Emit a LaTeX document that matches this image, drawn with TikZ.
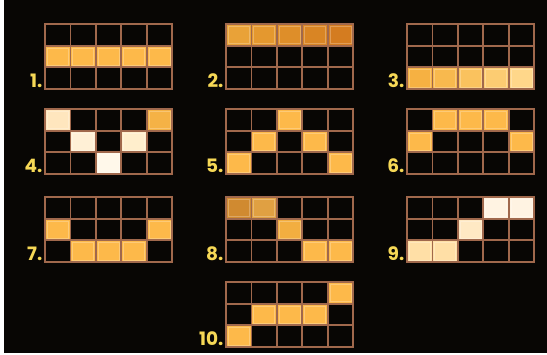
\documentclass[tikz,border=0pt]{standalone}
\usepackage{fontspec}
\setmainfont{Poppins}
\definecolor{bg}{HTML}{080604}
\definecolor{gl}{HTML}{A0684C}
\definecolor{labc}{HTML}{F6D856}
\definecolor{gold}{HTML}{FDB94A}
\definecolor{ga}{HTML}{E9A238}
\definecolor{gb}{HTML}{E4982F}
\definecolor{gc}{HTML}{DE8E29}
\definecolor{gd}{HTML}{D98524}
\definecolor{ge}{HTML}{D47C20}
\definecolor{ha}{HTML}{F6B142}
\definecolor{hb}{HTML}{F8B94E}
\definecolor{hc}{HTML}{FAC25E}
\definecolor{hd}{HTML}{FCCC72}
\definecolor{he}{HTML}{FFD78A}
\definecolor{wa}{HTML}{FFE6BE}
\definecolor{wb}{HTML}{FFF0D6}
\definecolor{wc}{HTML}{FFF8EA}
\definecolor{wd}{HTML}{FFEECC}
\definecolor{we}{HTML}{F5B246}
\definecolor{ka}{HTML}{D08A30}
\definecolor{kb}{HTML}{E0A042}
\definecolor{kc}{HTML}{F2AE40}
\definecolor{ya}{HTML}{FFDFA6}
\definecolor{yb}{HTML}{FFE9C4}
\definecolor{yc}{HTML}{FFF3E2}
\tikzset{
  gline/.style={draw=gl, line width=1.8pt},
  gframe/.style={draw=gl, line width=2.2pt},
  lab/.style={text=labc, font=\fontsize{18.5}{18.5}\selectfont\bfseries, inner sep=0pt, anchor=base east},
}
\newcommand\payline[4]{%
  \foreach \c/\r/\col in {#4} {
    \fill[\col] ({#1+(\c-1)*25.4},{#2+(\r-1)*21.67}) rectangle ++(25.4,21.67);
    \draw[\col!75!white, line width=0.6pt] ({#1+(\c-1)*25.4+2.2},{#2+(\r-1)*21.67+2.2}) rectangle ++(21,17.27);
  }
  \foreach \i in {1,...,4} \draw[gline] ({#1+\i*25.4},#2) -- ++(0,65);
  \foreach \j in {1,2} \draw[gline] (#1,{#2+\j*21.67}) -- ++(127,0);
  \draw[gframe] (#1,#2) rectangle ++(127,65);
  \node[lab] (lab#3) at (#1-2.5,#2+64) {#3.};
}
\begin{document}
\begin{tikzpicture}[x=1pt,y=-1pt]
\useasboundingbox (0,0) rectangle (547,355);
\fill[white] (0,0) rectangle (547,355);
\fill[bg] (4,0) rectangle (547,353);
\payline{45}{24}{1}{1/2/gold,2/2/gold,3/2/gold,4/2/gold,5/2/gold}
\payline{226}{24}{2}{1/1/ga,2/1/gb,3/1/gc,4/1/gd,5/1/ge}
\payline{407}{24}{3}{1/3/ha,2/3/hb,3/3/hc,4/3/hd,5/3/he}
\payline{45}{109}{4}{1/1/wa,2/2/wb,3/3/wc,4/2/wd,5/1/we}
\payline{226}{109}{5}{1/3/gold,2/2/gold,3/1/gold,4/2/gold,5/3/gold}
\payline{407}{109}{6}{1/2/gold,2/1/gold,3/1/gold,4/1/gold,5/2/gold}
\payline{45}{197}{7}{1/2/gold,2/3/gold,3/3/gold,4/3/gold,5/2/gold}
\payline{226}{197}{8}{1/1/ka,2/1/kb,3/2/kc,4/3/gold,5/3/gold}
\payline{407}{197}{9}{1/3/ya,2/3/ya,3/2/yb,4/1/yc,5/1/yc}
\payline{226}{282}{10}{1/3/gold,2/2/gold,3/2/gold,4/2/gold,5/1/gold}
\end{tikzpicture}
\end{document}
